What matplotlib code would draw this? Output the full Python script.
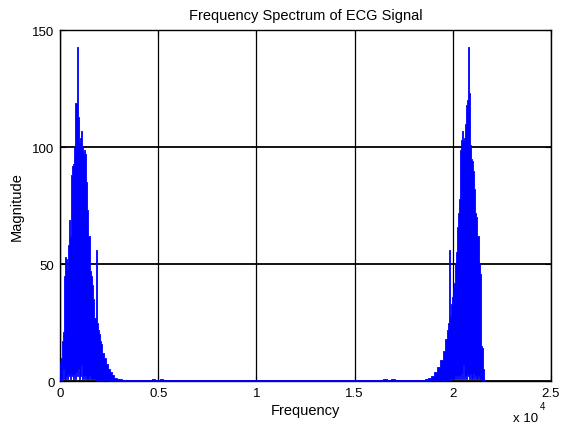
import numpy as np
import matplotlib
matplotlib.use('Agg')
import matplotlib.pyplot as plt

plt.rcParams['font.family'] = ['Liberation Sans', 'DejaVu Sans']

# spectrum envelope (frequency in Hz, upper and lower edge of the blue band)
freq = [0, 51, 102, 153, 204, 255, 305, 356, 407, 458, 509, 560, 611, 662, 713,
        764, 814, 865, 916, 967, 1018, 1069, 1120, 1171, 1222, 1273, 1323, 1374,
        1425, 1476, 1527, 1578, 1629, 1680, 1731, 1782, 1832, 1883, 1934, 1985,
        2036, 2087, 2138, 2240, 2341, 2443, 2545, 2647, 2749, 2901, 3156, 3500,
        4670, 4830, 5090, 5260, 10800, 10880, 16460, 16630, 16880, 17050, 18200,
        18580, 18730, 18880, 19040, 19190, 19340, 19490, 19600, 19700, 19750,
        19800, 19850, 19900, 19950, 20000, 20050, 20110, 20160, 20210, 20260,
        20310, 20360, 20410, 20460, 20510, 20560, 20610, 20660, 20720, 20770,
        20820, 20870, 20920, 20970, 21020, 21070, 21120, 21170, 21220, 21270,
        21330, 21380, 21430, 21480, 21530, 21580]
top = [8, 10, 17, 21, 45, 53, 52, 48, 58, 69, 62, 88, 92, 93, 100,
       119, 119, 143, 113, 102, 104, 107, 100, 98, 99, 97, 85, 73,
       62, 62, 47, 45, 41, 35, 27, 27, 56, 25, 22, 20,
       17, 16, 12, 10, 7.5, 5, 4, 2.5, 1.5, 0.8, 0.45, 0.4,
       0.9, 0.4, 0.8, 0.4, 0.6, 0.4, 0.9, 0.4, 0.8, 0.4, 0.45,
       0.8, 1.5, 2, 4, 6, 9, 13, 18, 22, 25,
       56, 28, 33, 36, 40, 42, 50, 55, 66, 72,
       78, 99, 103, 107, 103, 104, 110, 118, 120, 143,
       123, 101, 95, 94, 90, 82, 72, 70, 62, 62,
       50, 46, 15, 14, 5, 0.4]
low = [0.5, 0.5, 1, 5, 1, 1, 2, 1, 3, 2, 1, 3, 2, 1, 3,
       1, 4, 2, 5, 1, 2, 7, 1, 2, 1, 2, 1, 1,
       1, 2, 1, 1, 1, 0.8, 0.8, 0.6, 0.6, 0.5, 0.5, 0.5,
       0.4, 0.4, 0.3, 0.3, 0.3, 0.2, 0.2, 0.2, 0.2, 0.2, 0.1, 0.1,
       0.1, 0.1, 0.1, 0.1, 0.1, 0.1, 0.1, 0.1, 0.1, 0.1, 0.1,
       0.2, 0.2, 0.3, 0.3, 0.4, 0.4, 0.5, 0.5, 0.6, 0.6,
       0.6, 0.8, 1, 1, 1, 1, 2, 1, 2, 1,
       2, 1, 3, 1, 7, 1, 2, 1, 3, 2,
       1, 3, 1, 1, 3, 1, 2, 1, 1, 2,
       1, 1, 0.5, 0.5, 0.3, 0.1]

xticks = [0, 5000, 10000, 15000, 20000, 25000]
xticklabels = ['0', '0.5', '1', '1.5', '2', '2.5']
yticks = [0, 50, 100, 150]

fig = plt.figure(figsize=(5.61, 4.27), dpi=100)
ax = fig.add_axes([0.107, 0.105, 0.875, 0.822])

ax.fill_between(freq, low, top, step='post', facecolor='#0000ff',
                edgecolor='#0000ff', linewidth=0.6, zorder=3)

ax.set_xlim(0, 25000)
ax.set_ylim(0, 150)
ax.set_xticks(xticks)
ax.set_xticklabels(xticklabels)
ax.set_yticks(yticks)
ax.xaxis.grid(True, color='black', linestyle='-', linewidth=0.9)
ax.yaxis.grid(True, color='black', linestyle='-', linewidth=1.3)
ax.set_axisbelow(True)
ax.tick_params(direction='in', length=4, width=0.8, top=True, right=True,
               labelsize=9.5, pad=4)
for s in ax.spines.values():
    s.set_linewidth(1.0)

ax.set_title('Frequency Spectrum of ECG Signal', fontsize=10.5, pad=8)
ax.set_xlabel('Frequency', fontsize=10.5, labelpad=3)
ax.set_ylabel('Magnitude', fontsize=10.5, labelpad=6)

fig.text(0.915, 0.012, 'x 10', fontsize=9.5)
fig.text(0.962, 0.040, '4', fontsize=7)

fig.savefig('out.png', dpi=100)
